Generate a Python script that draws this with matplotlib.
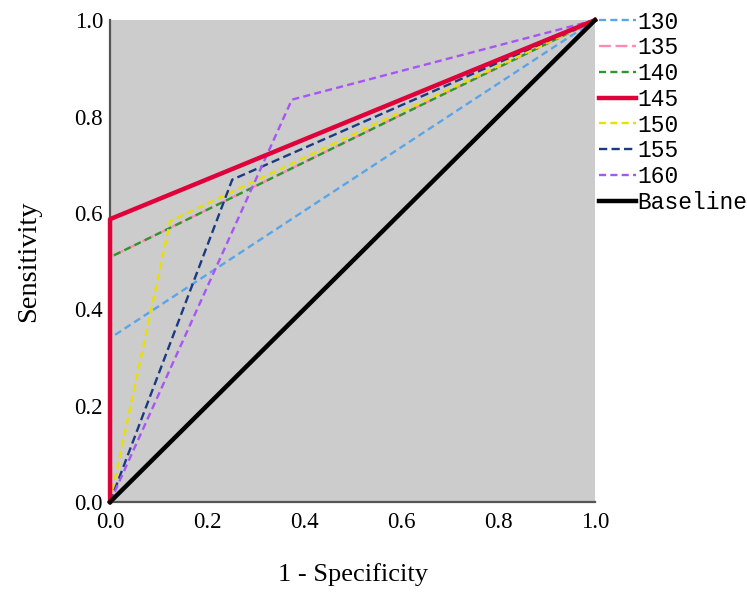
import matplotlib
matplotlib.use("Agg")
import matplotlib.pyplot as plt

# ROC points (1 - specificity, sensitivity) for each cut-off
labels = ["130", "135", "140", "145", "150", "155", "160"]
fpr = [
    [0.0, 0.0, 1.0],
    [0.0, 0.0, 1.0],
    [0.0, 0.0, 1.0],
    [0.0, 0.0, 1.0],
    [0.0, 0.124, 1.0],
    [0.0, 0.252, 1.0],
    [0.0, 0.375, 1.0],
]
tpr = [
    [0.0, 0.34, 1.0],
    [0.0, 0.508, 1.0],
    [0.0, 0.508, 1.0],
    [0.0, 0.587, 1.0],
    [0.0, 0.583, 1.0],
    [0.0, 0.669, 1.0],
    [0.0, 0.835, 1.0],
]
baseline = [0.0, 1.0]

colors = ["#5aa5ea", "#ff8ab0", "#2e962e", "#e0003a",
          "#e8e000", "#1c3a82", "#a855f7"]
styles = [(0, (3, 1.8)), (0, (5, 2)), (0, (3, 1.8)), "-",
          (0, (3, 1.8)), (0, (3.5, 1.8)), (0, (3, 1.8))]
widths = [1.7, 1.7, 1.7, 3.2, 1.7, 1.7, 1.7]

fig = plt.figure(figsize=(7.47, 5.92), dpi=100)
ax = fig.add_axes([0.1473, 0.152, 0.6492, 0.814])
ax.set_facecolor("#cccccc")

handles = []
for i, lab in enumerate(labels):
    h, = ax.plot(fpr[i], tpr[i], color=colors[i], linestyle=styles[i],
                 linewidth=widths[i], label=lab, clip_on=False, zorder=3 + (i == 3))
    handles.append(h)
hb, = ax.plot(baseline, baseline, color="black", linewidth=3.2,
              label="Baseline", clip_on=False, zorder=5)
handles.append(hb)

ax.set_xlim(0, 1)
ax.set_ylim(0, 1)
ticks = [0.0, 0.2, 0.4, 0.6, 0.8, 1.0]
ax.set_xticks(ticks)
ax.set_yticks(ticks)
ax.set_xticklabels(["%.1f" % t for t in ticks], fontfamily="Liberation Serif", fontsize=16.5)
ax.set_yticklabels(["%.1f" % t for t in ticks], fontfamily="Liberation Serif", fontsize=16.5)
ax.tick_params(axis="x", length=0, pad=7)
ax.tick_params(axis="y", length=0, pad=5)

for s in ["top", "right"]:
    ax.spines[s].set_visible(False)
for s in ["left", "bottom"]:
    ax.spines[s].set_color("#555555")
    ax.spines[s].set_linewidth(1.6)

ax.set_xlabel("1 - Specificity", fontfamily="Liberation Serif", fontsize=19, labelpad=22)
ax.set_ylabel("Sensitivity", fontfamily="Liberation Serif", fontsize=20.5, labelpad=24)

leg = ax.legend(handles=handles, loc="upper left", bbox_to_anchor=(0.99, 1.039),
                frameon=False, borderaxespad=0.0, handlelength=1.6,
                handletextpad=0.05, labelspacing=0.12,
                prop={"family": "Liberation Mono", "size": 16.5})

fig.savefig("out.png", dpi=100)
